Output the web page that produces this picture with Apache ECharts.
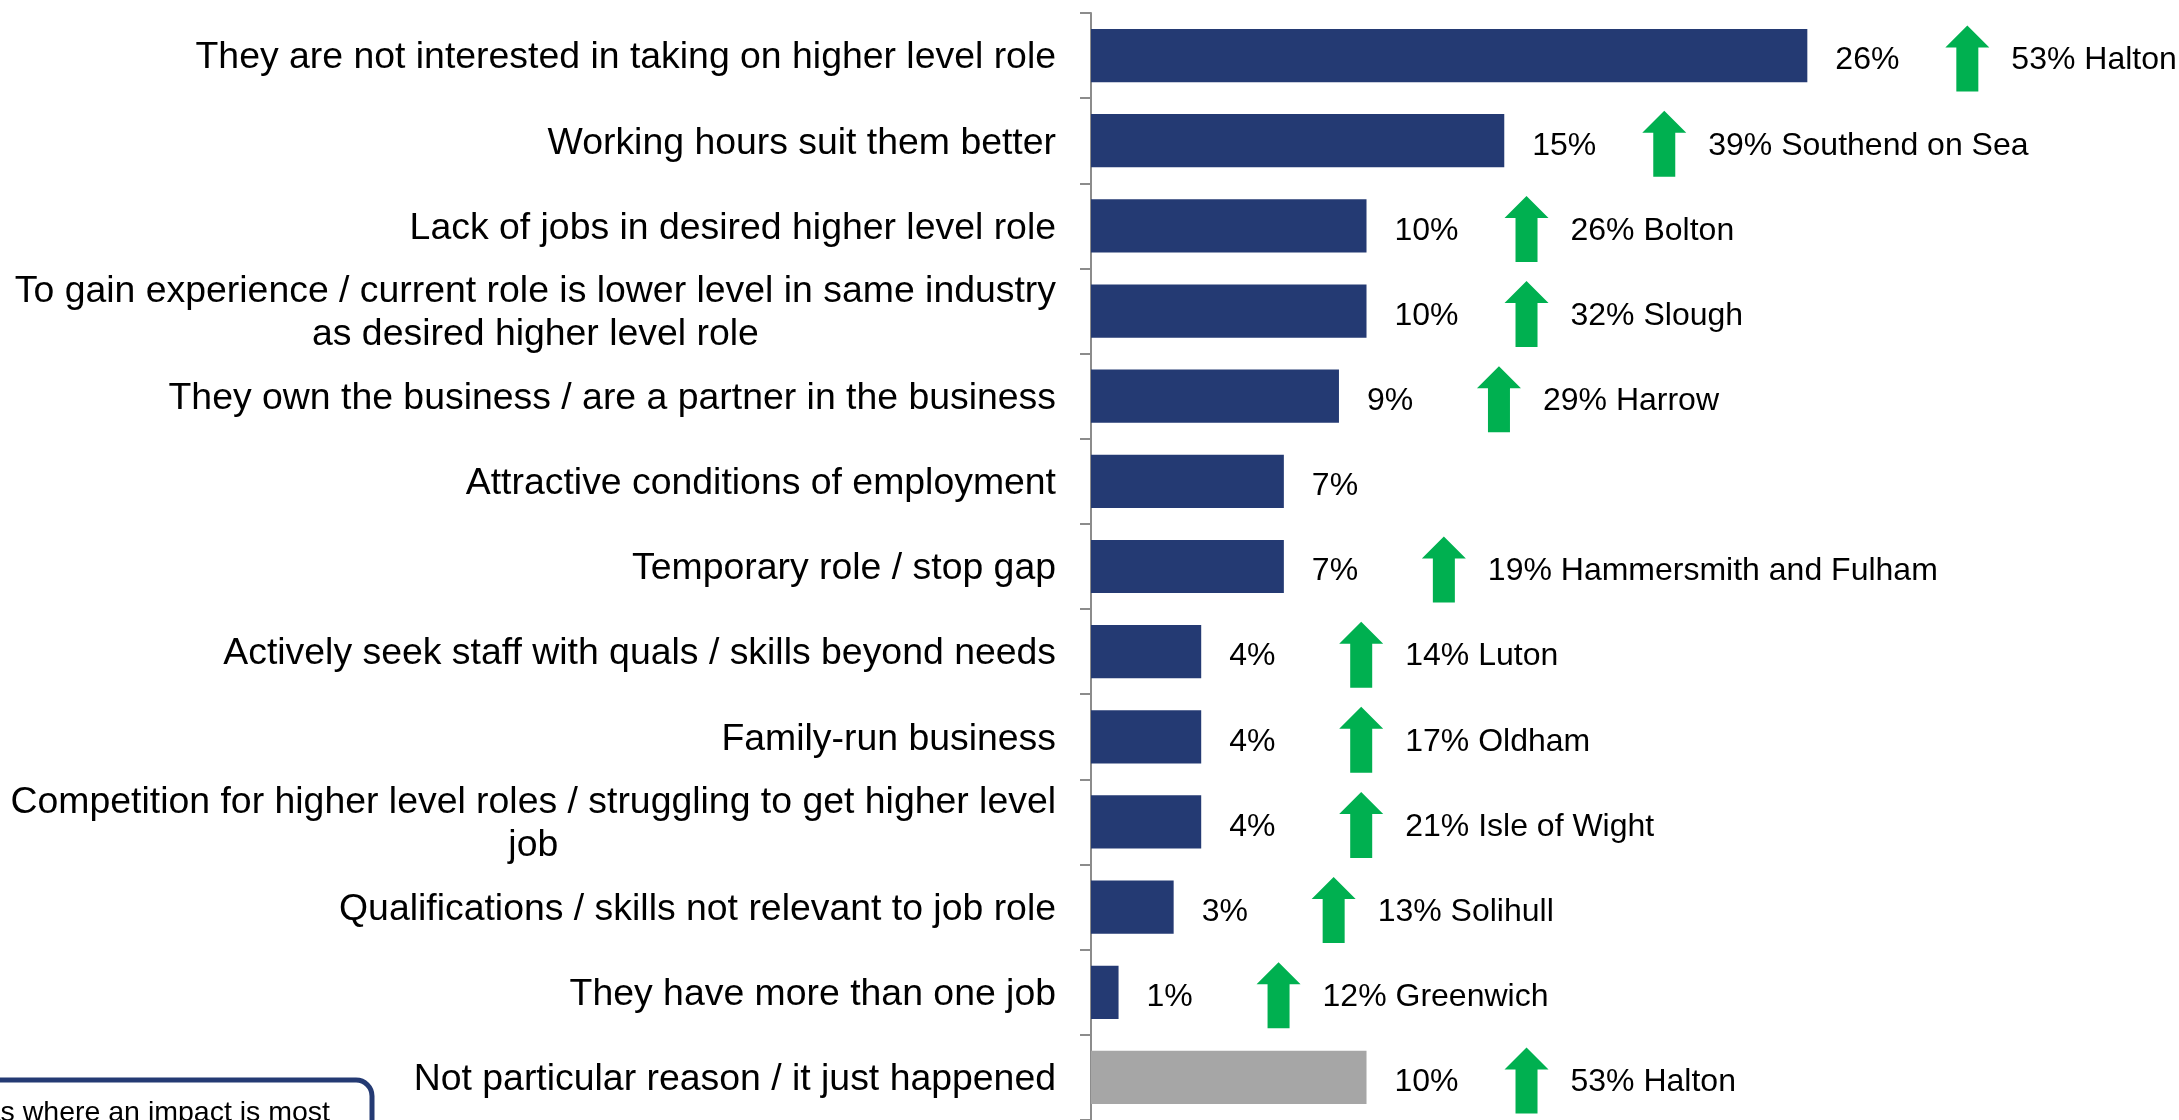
<!DOCTYPE html>
<html>
<head>
<meta charset="utf-8">
<style>
  html, body { margin: 0; padding: 0; background: #ffffff; }
  #chart { width: 2179px; height: 1120px; }
</style>
<script src="https://cdn.jsdelivr.net/npm/echarts@6/dist/echarts.min.js"></script>
</head>
<body>
<div id="chart"></div>
<script>
// Reasons given for employing staff whose qualifications exceed their role
const categories = [
  'They are not interested in taking on higher level role',
  'Working hours suit them better',
  'Lack of jobs in desired higher level role',
  'To gain experience / current role is lower level in same industry\nas desired higher level role',
  'They own the business / are a partner in the business',
  'Attractive conditions of employment',
  'Temporary role / stop gap',
  'Actively seek staff with quals / skills beyond needs',
  'Family-run business',
  'Competition for higher level roles / struggling to get higher level\njob',
  'Qualifications / skills not relevant to job role',
  'They have more than one job',
  'Not particular reason / it just happened'
];

// Share of employers giving each reason (%)
const shares = [26, 15, 10, 10, 9, 7, 7, 4, 4, 4, 3, 1, 10];

// Highest local area share for each reason (%), and that area's name
const topAreaShares = [53, 39, 26, 32, 29, null, 19, 14, 17, 21, 13, 12, 53];
const topAreaNames = [
  'Halton', 'Southend on Sea', 'Bolton', 'Slough', 'Harrow', null,
  'Hammersmith and Fulham', 'Luton', 'Oldham', 'Isle of Wight',
  'Solihull', 'Greenwich', 'Halton'
];

const FONT = "'Liberation Sans', Arial, Helvetica, sans-serif";
const NAVY = '#243a73';
const GREY_BAR = '#a6a6a6';
const GREEN = '#00b050';
const AXIS_GREY = '#8c8c8c';

const chart = echarts.init(document.getElementById('chart'), null, { renderer: 'canvas' });

// The last answer ("no particular reason") is shown in grey
const barData = shares.map((v, i) => ({
  value: v,
  itemStyle: { color: i === shares.length - 1 ? GREY_BAR : NAVY }
}));

// Callouts: the bar value positions the arrow, the area figures are printed beside it
const calloutData = [];
shares.forEach((v, i) => {
  if (topAreaShares[i] != null) {
    calloutData.push([v, i, topAreaShares[i], topAreaNames[i]]);
  }
});

const ARROW_GAP = 160;   // px from bar end to arrow centre
const HEAD_W = 44, SHAFT_W = 22, HEAD_H = 22, ARROW_H = 66;

function renderCallout(params, api) {
  const p = api.coord([api.value(0), api.value(1)]);
  const cx = p[0] + ARROW_GAP;
  const cy = p[1] + 3;
  const top = cy - ARROW_H / 2;
  const bottom = cy + ARROW_H / 2;
  const pts = [
    [cx, top],
    [cx + HEAD_W / 2, top + HEAD_H],
    [cx + SHAFT_W / 2, top + HEAD_H],
    [cx + SHAFT_W / 2, bottom],
    [cx - SHAFT_W / 2, bottom],
    [cx - SHAFT_W / 2, top + HEAD_H],
    [cx - HEAD_W / 2, top + HEAD_H]
  ];
  const item = calloutData[params.dataIndex];
  return {
    type: 'group',
    children: [
      {
        type: 'polygon',
        shape: { points: pts },
        style: { fill: GREEN }
      },
      {
        type: 'text',
        style: {
          x: cx + 44,
          y: cy + 2,
          text: item[2] + '% ' + item[3],
          font: '32px ' + FONT,
          fill: '#000000',
          textAlign: 'left',
          textVerticalAlign: 'middle'
        }
      }
    ]
  };
}

chart.setOption({
  animation: false,
  backgroundColor: '#ffffff',
  grid: { left: 1091, top: 13, width: 1074.5, height: 1109, containLabel: false },
  xAxis: {
    type: 'value',
    min: 0,
    max: 39,
    show: false
  },
  yAxis: {
    type: 'category',
    inverse: true,
    data: categories,
    axisLine: { show: true, lineStyle: { color: AXIS_GREY, width: 2 } },
    axisTick: { show: true, length: 11, lineStyle: { color: AXIS_GREY, width: 2 } },
    axisLabel: {
      interval: 0,
      margin: 35,
      color: '#000000',
      fontFamily: FONT,
      fontSize: 37.4,
      lineHeight: 43,
      padding: [5, 0, 0, 0],
      formatter: v => v.split('\n').map(line => '{c|' + line + '}').join('\n'),
      rich: {
        c: { align: 'center', fontSize: 37.4, lineHeight: 43, fontFamily: FONT, color: '#000000' }
      }
    },
    splitLine: { show: false }
  },
  series: [
    {
      type: 'bar',
      data: barData,
      barCategoryGap: '37.5%',
      label: {
        show: true,
        position: 'right',
        distance: 28,
        offset: [0, 5],
        formatter: '{c}%',
        color: '#000000',
        fontFamily: FONT,
        fontSize: 32
      },
      silent: true
    },
    {
      type: 'custom',
      coordinateSystem: 'cartesian2d',
      renderItem: renderCallout,
      data: calloutData,
      clip: false,
      silent: true,
      z: 5
    }
  ],
  graphic: [
    {
      type: 'rect',
      shape: { x: -60, y: 1080, width: 432, height: 120, r: 16 },
      style: { fill: '#ffffff', stroke: NAVY, lineWidth: 5 },
      z: 10
    },
    {
      type: 'text',
      style: {
        x: 330,
        y: 1113,
        text: 'Areas where an impact is most',
        font: '28.5px ' + FONT,
        fill: '#000000',
        textAlign: 'right',
        textVerticalAlign: 'middle'
      },
      z: 11
    }
  ]
});
</script>
</body>
</html>
